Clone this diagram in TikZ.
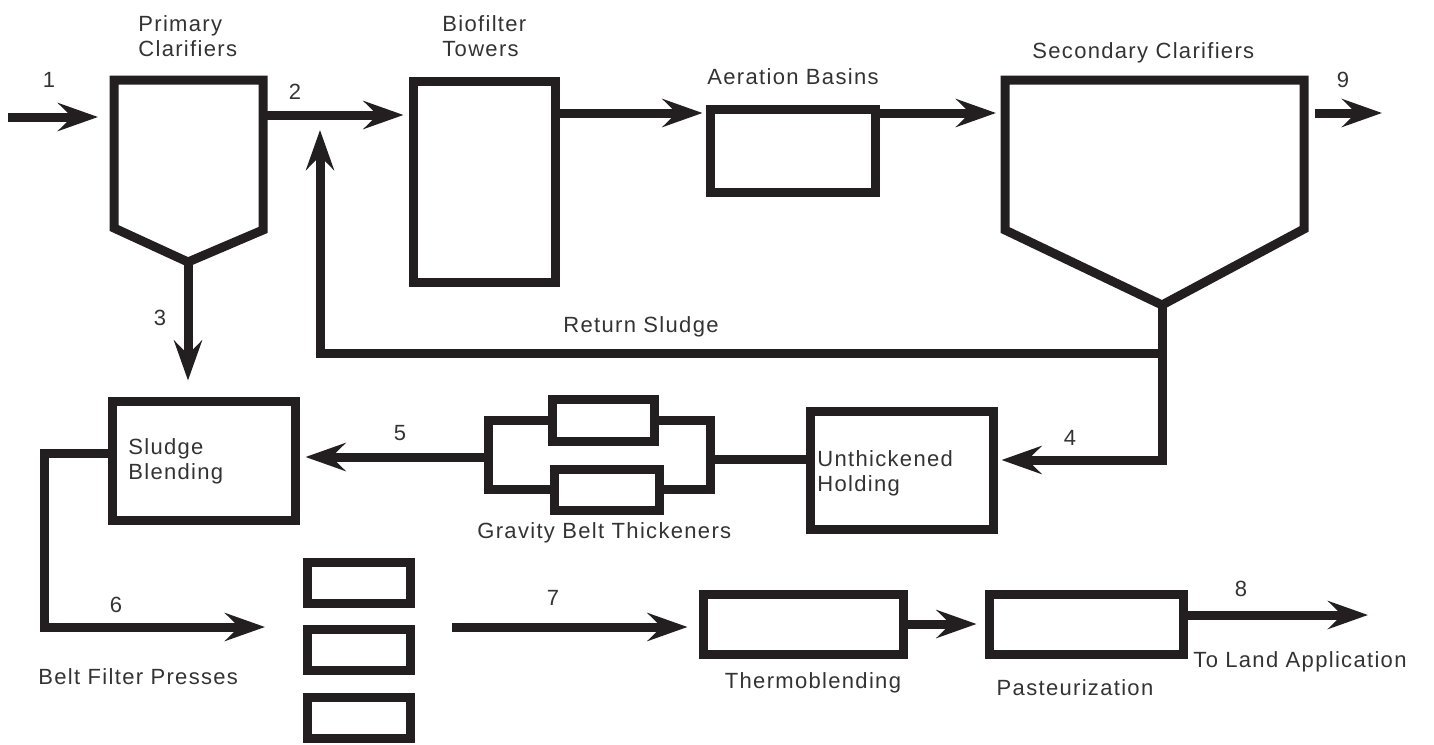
\documentclass[tikz,border=0pt]{standalone}
\usepackage{fontspec}
\setmainfont{Liberation Sans}
\newfontfamily\rotfont{Liberation Sans}[LetterSpace=6]
\usepackage{tikz}
\usetikzlibrary{arrows.meta,calc,fit,positioning}
\definecolor{tinta}{HTML}{231F20}
\definecolor{cinza}{HTML}{333333}

\begin{document}
\begin{tikzpicture}[
  x=0.5pt,y=-0.5pt,
  bloco/.style={draw=tinta,line width=4.5pt,inner sep=0pt},
  linha/.style={draw=tinta,line width=4.5pt},
  arr/.style={linha,-{Stealth[length=20pt,width=14pt,inset=7pt]}},
  txt/.style={font=\rotfont\fontsize{11}{12.5}\selectfont,text=cinza,inner sep=0pt,align=left}
]
  \useasboundingbox (0,0) rectangle (1434,744);

  % clarificadores
  \coordinate (pc-nw) at (114,80);  \coordinate (pc-ne) at (263,80);
  \coordinate (pc-se) at (263,230); \coordinate (pc-apex) at (188,262);
  \coordinate (pc-sw) at (114,228);
  \draw[linha] (pc-nw) -- (pc-ne) -- (pc-se) -- (pc-apex) -- (pc-sw) -- cycle;
  \coordinate (sc-nw) at (1005,80);  \coordinate (sc-ne) at (1304,80);
  \coordinate (sc-se) at (1304,229); \coordinate (sc-apex) at (1162,305);
  \coordinate (sc-sw) at (1005,230);
  \draw[linha] (sc-nw) -- (sc-ne) -- (sc-se) -- (sc-apex) -- (sc-sw) -- cycle;

  % blocos
  \node[bloco,fit={(413,81) (555,282)}] (torre) {};
  \node[bloco,fit={(710,109) (875,192)}] (aer) {};
  \node[bloco,fit={(112,401) (295,520)}] (mist) {};
  \node[bloco,fit={(810,411) (993,529)}] (esp) {};
  \node[bloco,fit={(552,399) (654,441)}] (gbt1) {};
  \node[bloco,fit={(554,469) (659,510)}] (gbt2) {};
  \foreach \i/\y in {1/562,2/629,3/697}
    \node[bloco,fit={(307,\y) (410,\y+41)}] (bfp\i) {};
  \node[bloco,fit={(703,594) (903,654)}] (termo) {};
  \node[bloco,fit={(989,594) (1183,654)}] (past) {};

  % pontos livres
  \coordinate (ent) at (8,117);
  \coordinate (y2) at (0,115);
  \coordinate (nivel) at (0,113);
  \coordinate (s9a) at (1315,113); \coordinate (s9b) at (1382,113);
  \coordinate (junta) at (1162,353);
  \coordinate (ret) at (320,353);  \coordinate (ret-fim) at (320,130);
  \coordinate (y4) at (0,460);
  \coordinate (gl) at (488,457);   \coordinate (gr) at (710,459);
  \coordinate (m6) at (0,453);     \coordinate (s6) at (44,627);
  \coordinate (bfp-ent) at (265,627); \coordinate (bfp-sai) at (452,627);
  \coordinate (terra) at (1368,615);

  % linhas de fluxo
  \draw[arr,shorten >=8pt] (ent) -- (pc-nw |- ent);
  \draw[arr,shorten >=2.5pt] (pc-ne |- y2) -- (torre.west |- y2);
  \draw[arr,shorten >=1.5pt] (torre.east |- nivel) -- (aer.west |- nivel);
  \draw[arr,shorten >=4.5pt] (aer.east |- nivel) -- (sc-nw |- nivel);
  \draw[arr] (s9a) -- (s9b);
  \draw[arr] (junta) -- (ret) -- (ret-fim);
  \draw[arr,shorten >=2pt] (sc-apex) -- (sc-apex |- y4) -- (esp.east |- y4);
  \draw[arr,shorten >=8pt] (pc-apex) -- (pc-apex |- mist.north);
  \draw[linha] (gbt1.west) -| (gl) |- (gbt2.west);
  \draw[linha] (gbt1.east) -| (gr) |- (gbt2.east);
  \draw[linha] (esp.west |- gr) -- (gr);
  \draw[arr,shorten >=3pt] (gl) -- (mist.east |- gl);
  \draw[arr] (mist.west |- m6) -| (s6) -- (bfp-ent);
  \draw[arr,shorten >=5.5pt] (bfp-sai) -- (termo.west |- bfp-sai);
  \draw[arr,shorten >=4pt] (termo) -- (past);
  \draw[arr] (past.east |- terra) -- (terra);

  % numeros
  \node[txt] (n1) at (49,80) {1};
  \node[txt] (n2) at (295,92) {2};
  \node[txt] (n3) at (160,318) {3};
  \node[txt] (n4) at (1070,438) {4};
  \node[txt] (n5) at (400,433) {5};
  \node[txt] (n6) at (116,605) {6};
  \node[txt] (n7) at (553,598) {7};
  \node[txt] (n8) at (1241,589) {8};
  \node[txt] (n9) at (1343,80) {9};

  % rotulos
  \node[txt,anchor=west] (l-pc) at (138,36) {Primary\\Clarifiers};
  \node[txt,anchor=west] (l-torre) at (442,36) {Biofilter\\Towers};
  \node[txt,anchor=west] (l-aer) at (707,77) {Aeration Basins};
  \node[txt,anchor=west] (l-sc) at (1032,53) {Secondary Clarifiers};
  \node[txt] (l-ret) at (641,327) {Return Sludge};
  \node[txt,anchor=west] (l-mist) at (128,461) {Sludge\\Blending};
  \node[txt,anchor=west] (l-esp) at (817,473) {Unthickened\\Holding};
  \node[txt,anchor=west] (l-gbt) at (477,533) {Gravity Belt Thickeners};
  \node[txt,anchor=west] (l-bfp) at (38,677) {Belt Filter Presses};
  \node[txt] (l-termo) at (813,683) {Thermoblending};
  \node[txt] (l-past) at (1075,688) {Pasteurization};
  \node[txt,anchor=west] (l-terra) at (1193,662) {To Land Application};
\end{tikzpicture}
\end{document}
